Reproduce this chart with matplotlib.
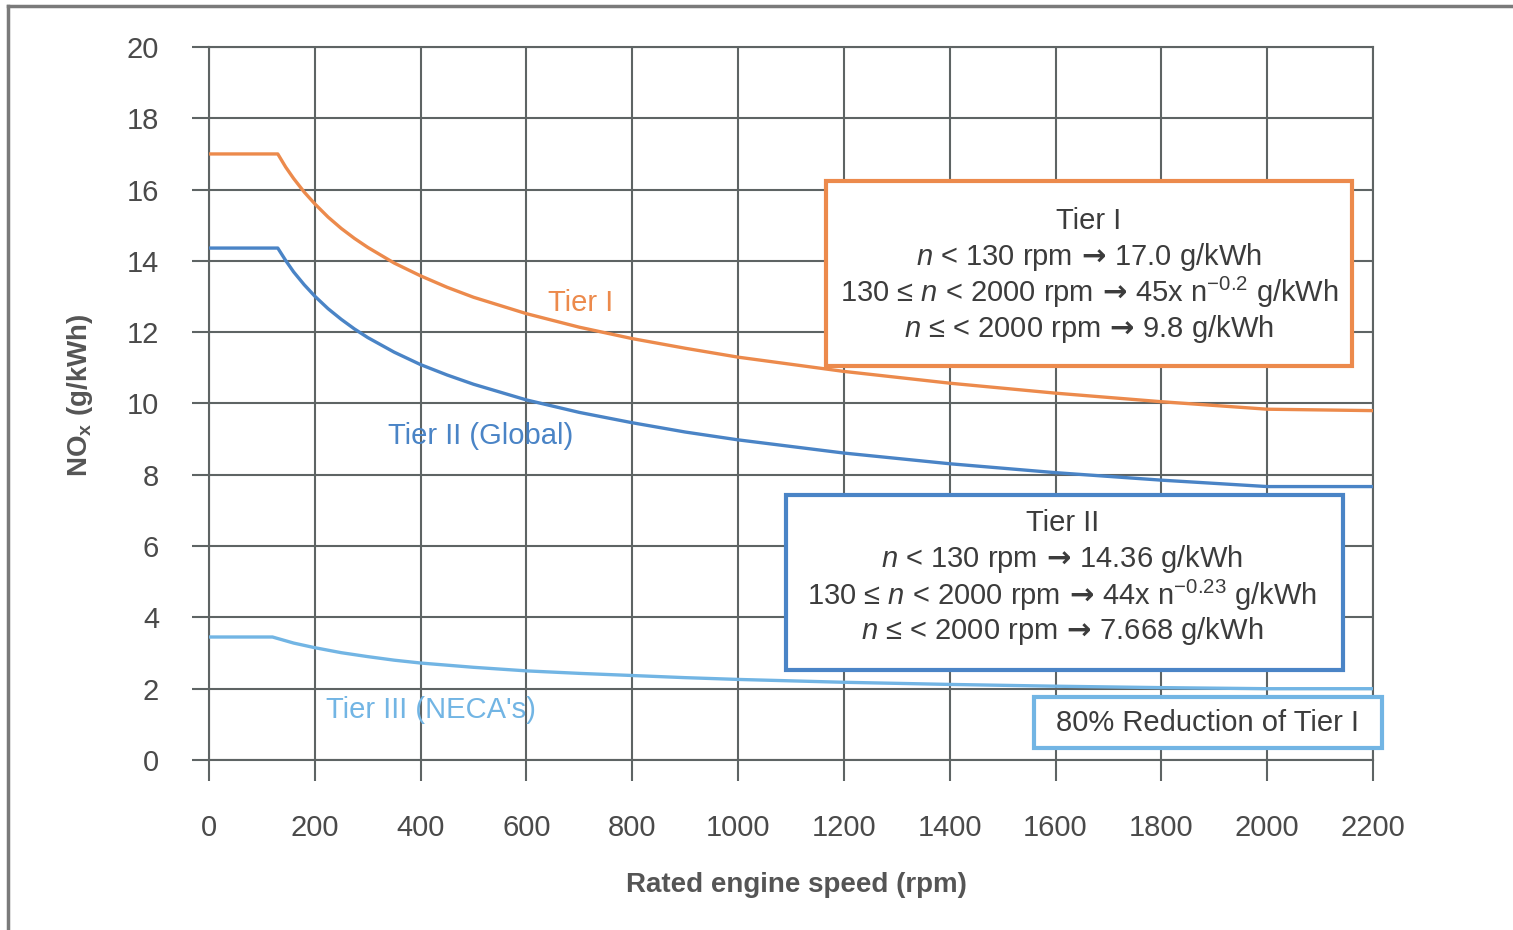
import numpy as np
import matplotlib
matplotlib.use("Agg")
from matplotlib import pyplot as plt
from matplotlib.patches import Rectangle
from matplotlib.lines import Line2D

plt.rcParams['font.family'] = ['Liberation Sans', 'DejaVu Sans']
plt.rcParams['mathtext.fontset'] = 'custom'
plt.rcParams['mathtext.rm'] = 'Liberation Sans'
plt.rcParams['mathtext.it'] = 'Liberation Sans:italic'
plt.rcParams['mathtext.sf'] = 'DejaVu Sans:bold'

# values
speed = [0, 130, 145, 160, 180, 200, 225, 250, 275, 300, 350, 400, 450, 500,
         600, 700, 800, 900, 1000, 1200, 1400, 1600, 1800, 2000, 2200]
tier1 = [17.0, 17.0, 16.63, 16.31, 15.93, 15.6, 15.23, 14.91, 14.63, 14.38, 13.94, 13.58,
         13.26, 12.98, 12.52, 12.14, 11.82, 11.55, 11.3, 10.9, 10.57, 10.29, 10.05, 9.84, 9.8]
tier2 = [14.36, 14.36, 14.01, 13.69, 13.33, 13.01, 12.66, 12.36, 12.09, 11.85, 11.44, 11.09,
         10.8, 10.54, 10.1, 9.75, 9.46, 9.2, 8.98, 8.61, 8.31, 8.06, 7.85, 7.67, 7.67]
speed3 = [0, 120, 160, 200, 250, 300, 350, 400, 450, 500, 600, 700, 800,
          900, 1000, 1200, 1400, 1600, 1800, 2000, 2200]
tier3 = [3.45, 3.45, 3.28, 3.15, 3.01, 2.9, 2.8, 2.72, 2.66, 2.6, 2.5, 2.43, 2.37,
         2.31, 2.26, 2.18, 2.12, 2.07, 2.03, 2.0, 2.0]

xticks = list(range(0, 2201, 200))
yticks = list(range(0, 21, 2))

arrow = r"$\,\mathsf{\rightarrow}\,$"
tier1_box = ["Tier I",
             "$n$ < 130 rpm" + arrow + "17.0 g/kWh",
             "130 \u2264 $n$ < 2000 rpm" + arrow + "45x n$^{-0.2}$ g/kWh",
             "$n$ \u2264 < 2000 rpm" + arrow + "9.8 g/kWh"]
tier2_box = ["Tier II",
             "$n$ < 130 rpm" + arrow + "14.36 g/kWh",
             "130 \u2264 $n$ < 2000 rpm" + arrow + "44x n$^{-0.23}$ g/kWh",
             "$n$ \u2264 < 2000 rpm" + arrow + "7.668 g/kWh"]

orange = '#ec8a4c'
blue = '#4a84c6'
lblue = '#72b5e4'
gridc = '#5e6464'
textc = '#3c3c3c'

fig = plt.figure(figsize=(15.13, 9.3), dpi=100)
ax = fig.add_axes([209/1513, 170/930, 1164/1513, 713/930])

ax.plot(speed, tier1, color=orange, lw=2.4, zorder=3)
ax.plot(speed, tier2, color=blue, lw=2.4, zorder=3)
ax.plot(speed3, tier3, color=lblue, lw=2.4, zorder=3)

ax.set_xlim(0, 2200)
ax.set_ylim(0, 20)
ax.set_xticks(xticks)
ax.set_yticks(yticks)
ax.grid(True, color=gridc, lw=1.5, zorder=1)
ax.set_axisbelow(True)
for s in ax.spines.values():
    s.set_color(gridc)
    s.set_linewidth(1.5)
ax.tick_params(axis='x', length=15, width=1.5, color=gridc, pad=24,
               labelsize=21, labelcolor='#4a4a4a')
ax.tick_params(axis='y', length=12, width=1.5, color=gridc, pad=24,
               labelsize=21, labelcolor='#4a4a4a')

ax.set_xlabel("Rated engine speed (rpm)", fontsize=20, fontweight='bold',
              color='#555555')
ax.xaxis.set_label_coords(0.505, -0.157)
ax.set_ylabel("NO$_\\mathregular{x}$ (g/kWh)", fontsize=20, fontweight='bold',
              color='#555555')
ax.yaxis.set_label_coords(-0.098, 0.512)

# curve labels
ax.text(702, 12.82, "Tier I", color=orange, fontsize=21, ha='center', va='center')
ax.text(514, 9.09, "Tier II (Global)", color=blue, fontsize=21, ha='center', va='center')
ax.text(420, 1.40, "Tier III (NECA's)", color=lblue, fontsize=21, ha='center', va='center')

# boxes
ax.add_patch(Rectangle((1167, 11.05), 993, 5.19, facecolor='white',
                       edgecolor=orange, lw=3, zorder=4))
for i, line in enumerate(tier1_box):
    ax.text(1663, 15.13 - i*1.01, line, fontsize=21, color=textc,
            ha='center', va='center', zorder=5)

ax.add_patch(Rectangle((1090, 2.52), 1053, 4.91, facecolor='white',
                       edgecolor=blue, lw=3, zorder=4))
for i, line in enumerate(tier2_box):
    ax.text(1613, 6.65 - i*1.01, line, fontsize=21, color=textc,
            ha='center', va='center', zorder=5)

ax.add_patch(Rectangle((1559, 0.34), 658, 1.43, facecolor='white',
                       edgecolor=lblue, lw=3, zorder=4, clip_on=False))
ax.text(1888, 1.05, "80% Reduction of Tier I", fontsize=21, color=textc,
        ha='center', va='center', zorder=5)

# scan frame
fig.add_artist(Line2D([8/1513, 8/1513], [0, 1 - 6/930], color='#7a7a7a', lw=2.5))
fig.add_artist(Line2D([8/1513, 1], [1 - 6/930, 1 - 6/930], color='#7a7a7a', lw=2.5))

fig.savefig("out.png", dpi=100)
